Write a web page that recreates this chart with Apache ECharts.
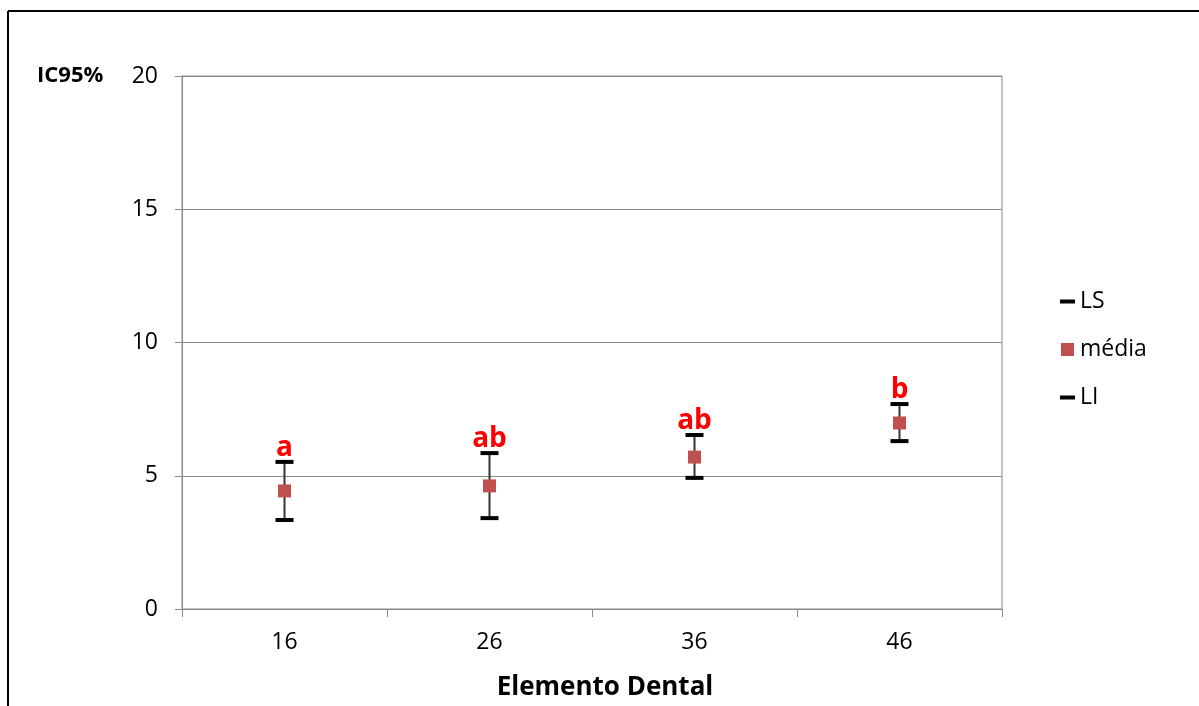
<!DOCTYPE html>
<html>
<head>
<meta charset="utf-8">
<script src="https://cdn.jsdelivr.net/npm/echarts@6/dist/echarts.min.js"></script>
<style>
  html, body { margin: 0; padding: 0; background: #fff; }
  #chart { width: 1199px; height: 706px; }
</style>
</head>
<body>
<div id="chart"></div>
<script>
// Dental elements on the x axis
const categories = ['16', '26', '36', '46'];
// Upper limit (LS), mean (média) and lower limit (LI) of the 95% CI
const upper = [5.52, 5.85, 6.53, 7.69];
const mean = [4.43, 4.62, 5.70, 6.98];
const lower = [3.34, 3.41, 4.92, 6.30];
// Significance letters shown above each interval
const letters = ['a', 'ab', 'ab', 'b'];
const yTicks = [0, 5, 10, 15, 20];

const FONT = '"Open Sans", sans-serif';
const chart = echarts.init(document.getElementById('chart'));

const capSize = [18, 4];

chart.setOption({
  animation: false,
  backgroundColor: '#fff',
  grid: { left: 182, right: 197, top: 76, bottom: 97, show: true, borderColor: '#8a8a8a', borderWidth: 1 },
  xAxis: {
    type: 'category',
    data: categories,
    boundaryGap: true,
    name: 'Elemento Dental',
    nameLocation: 'middle',
    nameGap: 66,
    nameTextStyle: { fontFamily: FONT, fontSize: 26, fontWeight: 'bold', color: '#000', padding: [0, 0, 0, 26] },
    axisLine: { lineStyle: { color: '#8a8a8a', width: 1 } },
    axisTick: { show: true, length: 8, alignWithLabel: false, lineStyle: { color: '#8a8a8a' } },
    axisLabel: { fontFamily: FONT, fontSize: 23, color: '#000', margin: 22 }
  },
  yAxis: {
    type: 'value',
    min: yTicks[0],
    max: yTicks[yTicks.length - 1],
    interval: 5,
    axisLine: { show: true, lineStyle: { color: '#8a8a8a', width: 1 } },
    axisTick: { show: true, length: 7, lineStyle: { color: '#8a8a8a' } },
    splitLine: { lineStyle: { color: '#8a8a8a', width: 1 } },
    axisLabel: { fontFamily: FONT, fontSize: 23, color: '#000', margin: 24 }
  },
  legend: {
    orient: 'vertical',
    left: 1055,
    top: 285,
    itemGap: 25,
    itemWidth: 15,
    itemHeight: 13,
    textStyle: { fontFamily: FONT, fontSize: 23, color: '#000', padding: [0, 0, 0, 0] },
    data: [
      { name: 'LS', icon: 'path://M0,0H15V4H0Z', itemStyle: { color: '#000', opacity: 1 } },
      { name: 'média', icon: 'path://M0,0H12V12H0Z', itemStyle: { color: '#c0504d', opacity: 1 } },
      { name: 'LI', icon: 'path://M0,0H15V4H0Z', itemStyle: { color: '#000', opacity: 1 } }
    ]
  },
  graphic: [
    // frame lines along the top and left
    { type: 'line', shape: { x1: 8, y1: 11, x2: 1199, y2: 11 }, style: { stroke: '#000', lineWidth: 2 } },
    { type: 'line', shape: { x1: 8, y1: 11, x2: 8, y2: 706 }, style: { stroke: '#000', lineWidth: 2 } },
    { type: 'text', left: 37, top: 65, style: { text: 'IC95%', font: 'bold 22px ' + FONT, fill: '#000' } }
  ],
  series: [
    {
      // vertical stems joining LI to LS
      name: 'stem',
      type: 'custom',
      silent: true,
      data: categories.map((c, i) => [i, lower[i], upper[i]]),
      renderItem: (params, api) => {
        const p1 = api.coord([api.value(0), api.value(1)]);
        const p2 = api.coord([api.value(0), api.value(2)]);
        return { type: 'line', shape: { x1: p1[0], y1: p1[1], x2: p2[0], y2: p2[1] }, style: { stroke: '#333', lineWidth: 2 } };
      },
      z: 1
    },
    {
      name: 'LS',
      type: 'scatter',
      data: upper,
      symbol: 'rect',
      symbolSize: capSize,
      itemStyle: { color: '#000', opacity: 1 },
      label: {
        show: true,
        position: 'top',
        distance: -2,
        formatter: p => letters[p.dataIndex],
        color: '#ff0000',
        opacity: 1,
        fontFamily: FONT,
        fontSize: 28,
        fontWeight: 'bold'
      },
      z: 3
    },
    {
      name: 'média',
      type: 'scatter',
      data: mean,
      symbol: 'rect',
      symbolSize: 13,
      itemStyle: { color: '#c0504d', opacity: 1 },
      z: 4
    },
    {
      name: 'LI',
      type: 'scatter',
      data: lower,
      symbol: 'rect',
      symbolSize: capSize,
      itemStyle: { color: '#000', opacity: 1 },
      z: 3
    }
  ]
});
</script>
</body>
</html>
